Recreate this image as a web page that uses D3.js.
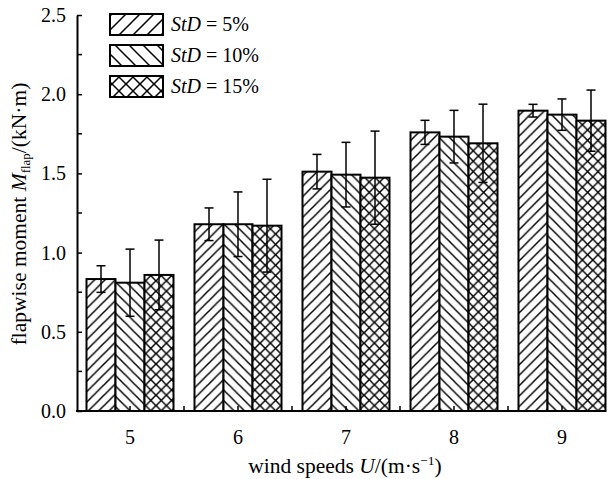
<!DOCTYPE html>
<html><head><meta charset="utf-8">
<script src="https://cdn.jsdelivr.net/npm/d3@7"></script>
<style>
body{margin:0;background:#fff;}
svg{display:block;}
svg text{font-family:"Liberation Serif","Times New Roman",serif;fill:#000;}
</style></head>
<body><svg id="c" width="611" height="479"></svg>
<script>
const categories = ["5","6","7","8","9"];
const series = ["StD = 5%","StD = 10%","StD = 15%"];
const means = [
  [0.833, 0.810, 0.859],
  [1.179, 1.179, 1.170],
  [1.511, 1.492, 1.473],
  [1.759, 1.732, 1.690],
  [1.896, 1.871, 1.833]
];
const errs = [
  [0.084, 0.212, 0.220],
  [0.103, 0.204, 0.293],
  [0.109, 0.204, 0.294],
  [0.076, 0.166, 0.247],
  [0.040, 0.099, 0.193]
];
const yTicks = [0.0, 0.5, 1.0, 1.5, 2.0, 2.5];
const yMinor = [0.25, 0.75, 1.25, 1.75, 2.25];

const svg = d3.select("#c");
const defs = svg.append("defs");
function mkPattern(id, kind, s, sw){
  const p = defs.append("pattern").attr("id", id).attr("patternUnits","userSpaceOnUse")
    .attr("width", s).attr("height", s);
  p.append("rect").attr("width", s).attr("height", s).attr("fill","#fff");
  const st = l => l.attr("stroke","#000").attr("stroke-width", sw).attr("stroke-linecap","square");
  if (kind === "fwd" || kind === "cross") {
    st(p.append("line").attr("x1",0).attr("y1",s).attr("x2",s).attr("y2",0));
    st(p.append("line").attr("x1",-1).attr("y1",1).attr("x2",1).attr("y2",-1));
    st(p.append("line").attr("x1",s-1).attr("y1",s+1).attr("x2",s+1).attr("y2",s-1));
  }
  if (kind === "back" || kind === "cross") {
    st(p.append("line").attr("x1",0).attr("y1",0).attr("x2",s).attr("y2",s));
    st(p.append("line").attr("x1",s-1).attr("y1",-1).attr("x2",s+1).attr("y2",1));
    st(p.append("line").attr("x1",-1).attr("y1",s-1).attr("x2",1).attr("y2",s+1));
  }
}
const kinds = ["fwd","back","cross"];
kinds.forEach(k => { mkPattern("p-"+k, k, 10.4, 1.5); mkPattern("l-"+k, k, 14, 1.5); });

const x0 = d3.scaleBand().domain(categories).range([76, 616]);
const x1 = d3.scaleBand().domain(series).range([10.5, 97.5]);
const y = d3.scaleLinear().domain([0, 2.5]).range([411, 15]);

// bars
const g = svg.append("g");
categories.forEach((c, i) => {
  series.forEach((s, j) => {
    const bx = x0(c) + x1(s);
    g.append("rect").attr("x", bx).attr("y", y(means[i][j]))
      .attr("width", x1.bandwidth()).attr("height", y(0) - y(means[i][j]))
      .attr("fill", `url(#p-${kinds[j]})`).attr("stroke","#000").attr("stroke-width",2);
  });
});
// error bars
categories.forEach((c, i) => {
  series.forEach((s, j) => {
    const cx = x0(c) + x1(s) + x1.bandwidth()/2;
    const lo = y(means[i][j] - errs[i][j]), hi = y(means[i][j] + errs[i][j]);
    g.append("line").attr("x1",cx).attr("x2",cx).attr("y1",lo).attr("y2",hi).attr("stroke","#000").attr("stroke-width",1.5);
    [lo, hi].forEach(v => g.append("line").attr("x1",cx-4.5).attr("x2",cx+4.5).attr("y1",v).attr("y2",v).attr("stroke","#000").attr("stroke-width",1.5));
  });
});

// y axis
const yAxis = svg.append("g").attr("transform","translate(77,0)")
  .call(d3.axisLeft(y).tickValues(yTicks).tickFormat(d3.format(".1f")).tickSizeInner(-5).tickSizeOuter(0).tickPadding(11));
yAxis.attr("font-family", null).attr("font-size", null);
yAxis.select(".domain").attr("stroke-width",2);
yAxis.selectAll(".tick line").attr("stroke-width",1.5);
yAxis.selectAll("text").attr("font-size",20).attr("fill","#000");
yMinor.forEach(v => svg.append("line").attr("x1",77).attr("x2",82).attr("y1",y(v)).attr("y2",y(v)).attr("stroke","#000").attr("stroke-width",1.5));

// x axis
svg.append("line").attr("x1",76).attr("x2",605).attr("y1",411).attr("y2",411).attr("stroke","#000").attr("stroke-width",2);
categories.forEach(c => {
  const cx = x0(c) + x0.bandwidth()/2;
  svg.append("line").attr("x1",cx).attr("x2",cx).attr("y1",411).attr("y2",406).attr("stroke","#000").attr("stroke-width",1.5);
  svg.append("text").attr("x",cx).attr("y",444).attr("text-anchor","middle").attr("font-size",20).text(c);
});
categories.slice(1).forEach(c => {
  const bx = x0(c);
  svg.append("line").attr("x1",bx).attr("x2",bx).attr("y1",411).attr("y2",406).attr("stroke","#000").attr("stroke-width",1.5);
});

// axis titles
const xt = svg.append("text").attr("x",345).attr("y",473).attr("text-anchor","middle").attr("font-size",21.5);
xt.append("tspan").text("wind speeds ");
xt.append("tspan").attr("font-style","italic").text("U");
xt.append("tspan").text("/(m·s");
xt.append("tspan").attr("dy",-8).attr("font-size",13.5).text("−1");
xt.append("tspan").attr("dy",8).text(")");

const yt = svg.append("text").attr("transform","translate(26,214) rotate(-90)").attr("text-anchor","middle").attr("font-size",21.5);
yt.append("tspan").text("flapwise moment ");
yt.append("tspan").attr("font-style","italic").text("M");
yt.append("tspan").attr("dy",4).attr("font-size",13).text("flap");
yt.append("tspan").attr("dy",-4).text("/(kN·m)");

// legend
series.forEach((s, j) => {
  const ly = 14 + j*31;
  svg.append("rect").attr("x",110).attr("y",ly).attr("width",53).attr("height",21)
    .attr("fill",`url(#l-${kinds[j]})`).attr("stroke","#000").attr("stroke-width",2);
  const t = svg.append("text").attr("x",171).attr("y",ly+17).attr("font-size",20);
  t.append("tspan").attr("font-style","italic").text("StD");
  t.append("tspan").text(s.replace("StD",""));
});
</script></body></html>
